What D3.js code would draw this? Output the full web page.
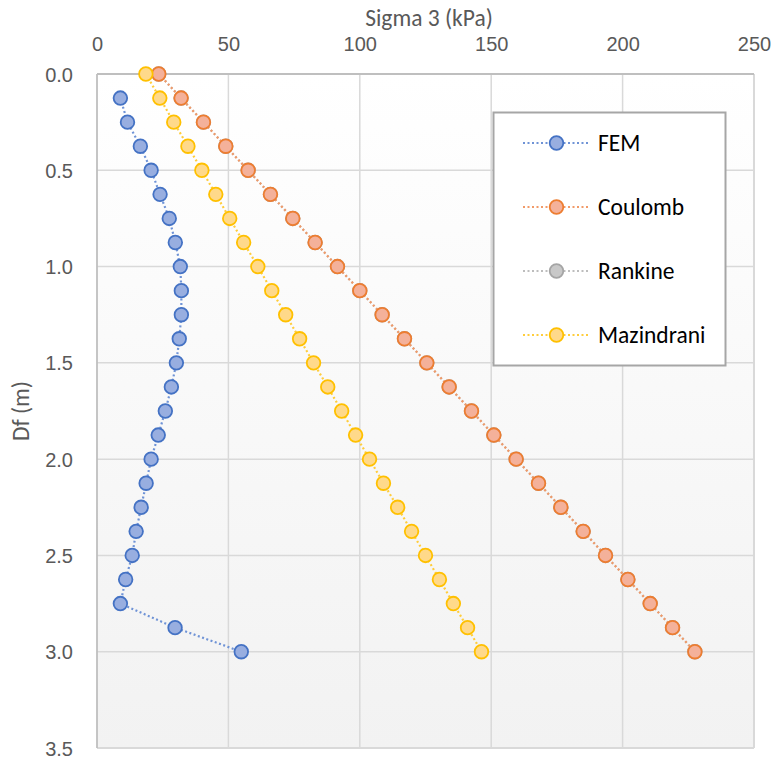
<!DOCTYPE html>
<html>
<head>
<meta charset="utf-8">
<script src="https://cdn.jsdelivr.net/npm/d3@7"></script>
<style>
  html, body { margin: 0; padding: 0; background: #fff; }
  svg { display: block; font-family: Carlito, Calibri, Lato, "Open Sans", sans-serif; }
</style>
</head>
<body>
<svg id="chart" width="774" height="759"></svg>
<script>
// ---- data ----
const depths = [0, 0.125, 0.25, 0.375, 0.5, 0.625, 0.75, 0.875, 1.0, 1.125, 1.25, 1.375, 1.5,
                1.625, 1.75, 1.875, 2.0, 2.125, 2.25, 2.375, 2.5, 2.625, 2.75, 2.875, 3.0];
const femValues = [null, 8.9, 11.6, 16.5, 20.6, 24.0, 27.5, 29.8, 31.7, 32.1, 32.1, 31.3, 30.2,
                   28.3, 26.0, 23.3, 20.6, 18.7, 16.8, 14.9, 13.4, 10.9, 8.9, 29.7, 54.9];
const coulombValues = [23.5, 32.0, 40.5, 49.0, 57.5, 66.0, 74.5, 83.0, 91.5, 100.0, 108.5, 117.0, 125.5,
                       134.0, 142.5, 151.0, 159.5, 168.0, 176.5, 185.0, 193.5, 202.0, 210.5, 219.0, 227.5];
const rankineValues = [23.5, 32.0, 40.5, 49.0, 57.5, 66.0, 74.5, 83.0, 91.5, 100.0, 108.5, 117.0, 125.5,
                       134.0, 142.5, 151.0, 159.5, 168.0, 176.5, 185.0, 193.5, 202.0, 210.5, 219.0, 227.5];
const mazindraniValues = [18.6, 23.9, 29.2, 34.6, 39.9, 45.2, 50.5, 55.8, 61.2, 66.5, 71.8, 77.1, 82.4,
                          87.8, 93.1, 98.4, 103.7, 109.0, 114.4, 119.7, 125.0, 130.3, 135.6, 141.0, 146.3];
const seriesNames = ["FEM", "Coulomb", "Rankine", "Mazindrani"];
const xTicks = [0, 50, 100, 150, 200, 250];
const yTicks = [0, 0.5, 1.0, 1.5, 2.0, 2.5, 3.0, 3.5];
const xTitle = "Sigma 3 (kPa)";
const yTitle = "Df (m)";

// ---- styles ----
const styles = {
  FEM:        { stroke: "#4472c4", fill: "#98aee0", line: "#6f93d6" },
  Coulomb:    { stroke: "#ed7d31", fill: "#f4b19a", line: "#f19a68" },
  Rankine:    { stroke: "#a5a5a5", fill: "#c8c8c8", line: "#bdbdbd" },
  Mazindrani: { stroke: "#ffc000", fill: "#ffd98a", line: "#ffcd3c" }
};
const seriesValues = { FEM: femValues, Coulomb: coulombValues, Rankine: rankineValues, Mazindrani: mazindraniValues };

const svg = d3.select("#chart");
const pL = 97, pR = 754, pT = 74, pB = 748;

const x = d3.scaleLinear().domain([0, 250]).range([pL, pR]);
const y = d3.scaleLinear().domain([0, 3.5]).range([pT, pB]);

// background gradient
const defs = svg.append("defs");
const grad = defs.append("linearGradient").attr("id", "bg").attr("x1", 0).attr("y1", 0).attr("x2", 0).attr("y2", 1);
grad.append("stop").attr("offset", "0%").attr("stop-color", "#ffffff");
grad.append("stop").attr("offset", "100%").attr("stop-color", "#f2f2f2");

svg.append("rect").attr("x", pL).attr("y", pT).attr("width", pR - pL).attr("height", pB - pT)
  .attr("fill", "url(#bg)");

// gridlines
svg.append("g").selectAll("line").data(xTicks.slice(1)).join("line")
  .attr("x1", d => x(d)).attr("x2", d => x(d)).attr("y1", pT).attr("y2", pB)
  .attr("stroke", "#d9d9d9").attr("stroke-width", 1.5);
svg.append("g").selectAll("line").data(yTicks.slice(1)).join("line")
  .attr("x1", pL).attr("x2", pR).attr("y1", d => y(d)).attr("y2", d => y(d))
  .attr("stroke", "#d9d9d9").attr("stroke-width", 1.5);
// right & bottom border
svg.append("line").attr("x1", pR).attr("x2", pR).attr("y1", pT).attr("y2", pB)
  .attr("stroke", "#d9d9d9").attr("stroke-width", 1.8);
svg.append("line").attr("x1", pL).attr("x2", pR).attr("y1", pB).attr("y2", pB)
  .attr("stroke", "#d9d9d9").attr("stroke-width", 1.8);
// axis lines (top & left)
svg.append("line").attr("x1", pL).attr("x2", pR).attr("y1", pT).attr("y2", pT)
  .attr("stroke", "#bfbfbf").attr("stroke-width", 1.8);
svg.append("line").attr("x1", pL).attr("x2", pL).attr("y1", pT).attr("y2", pB)
  .attr("stroke", "#bfbfbf").attr("stroke-width", 1.8);

// axes via d3
const xAxis = svg.append("g").attr("transform", `translate(0,${pT - 20})`)
  .call(d3.axisTop(x).tickValues(xTicks).tickSize(0).tickFormat(d3.format("d")));
xAxis.select(".domain").remove();
xAxis.selectAll("text").attr("fill", "#595959").style("font-size", "20px").attr("dy", "0");

const yAxis = svg.append("g").attr("transform", `translate(${pL - 21},0)`)
  .call(d3.axisLeft(y).tickValues(yTicks).tickSize(0).tickFormat(d3.format(".1f")));
yAxis.select(".domain").remove();
yAxis.selectAll("text").attr("fill", "#595959").style("font-size", "20px").attr("dy", "0.35em");

// titles
svg.append("text").attr("x", 429).attr("y", 26).attr("text-anchor", "middle")
  .attr("fill", "#595959").style("font-size", "23.5px").text(xTitle);
svg.append("text").attr("transform", `translate(29,${(pT + pB) / 2}) rotate(-90)`)
  .attr("text-anchor", "middle").attr("fill", "#595959").style("font-size", "23.5px").text(yTitle);

// series
const drawOrder = ["Rankine", "Coulomb", "Mazindrani", "FEM"];
drawOrder.forEach(name => {
  const vals = seriesValues[name];
  const pts = depths.map((d, i) => ({ d, v: vals[i] })).filter(p => p.v != null);
  const st = styles[name];
  const line = d3.line().x(p => x(p.v)).y(p => y(p.d));
  svg.append("path").datum(pts).attr("d", line).attr("fill", "none")
    .attr("stroke", st.line).attr("stroke-width", 2.2).attr("stroke-dasharray", "2,2.5");
  svg.append("g").selectAll("circle").data(pts).join("circle")
    .attr("cx", p => x(p.v)).attr("cy", p => y(p.d)).attr("r", 6.8)
    .attr("fill", st.fill).attr("stroke", st.stroke).attr("stroke-width", 1.8);
});

// legend
const lg = svg.append("g");
lg.append("rect").attr("x", 493.5).attr("y", 112.5).attr("width", 232).attr("height", 253)
  .attr("fill", "#ffffff").attr("stroke", "#a6a6a6").attr("stroke-width", 2);
const rowY = [143, 207, 271, 335];
seriesNames.forEach((name, i) => {
  const st = styles[name];
  const g = lg.append("g");
  g.append("line").attr("x1", 523).attr("x2", 590).attr("y1", rowY[i]).attr("y2", rowY[i])
    .attr("stroke", st.line).attr("stroke-width", 2.2).attr("stroke-dasharray", "2,2.5");
  g.append("circle").attr("cx", 556.5).attr("cy", rowY[i]).attr("r", 6.8)
    .attr("fill", st.fill).attr("stroke", st.stroke).attr("stroke-width", 1.8);
  g.append("text").attr("x", 598).attr("y", rowY[i]).attr("dy", "0.35em")
    .attr("fill", "#000").style("font-size", "23.5px").text(name);
});
</script>
</body>
</html>
